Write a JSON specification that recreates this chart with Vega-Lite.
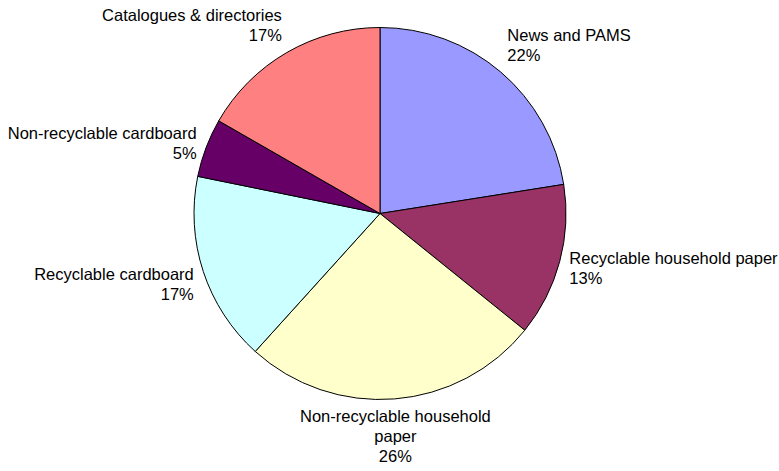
{
  "$schema": "https://vega.github.io/schema/vega-lite/v6.json",
  "width": 760,
  "height": 427,
  "autosize": {"type": "none"},
  "padding": {"left": 0, "top": 0, "right": 19, "bottom": 44},
  "background": "white",
  "config": {"view": {"stroke": null}},
  "data": {
    "values": [
      {"idx": 1, "category": "News and PAMS", "share": 22.5, "label": "News and PAMS\n22%"},
      {"idx": 2, "category": "Recyclable household paper", "share": 13.3, "label": "Recyclable household paper\n13%"},
      {"idx": 3, "category": "Non-recyclable household paper", "share": 25.9, "label": "Non-recyclable household\npaper\n26%"},
      {"idx": 4, "category": "Recyclable cardboard", "share": 16.5, "label": "Recyclable cardboard\n17%"},
      {"idx": 5, "category": "Non-recyclable cardboard", "share": 5.1, "label": "Non-recyclable cardboard\n5%"},
      {"idx": 6, "category": "Catalogues & directories", "share": 16.7, "label": "Catalogues & directories\n17%"}
    ]
  },
  "encoding": {
    "theta": {"field": "share", "type": "quantitative", "stack": true},
    "order": {"field": "idx", "type": "quantitative"}
  },
  "layer": [
    {
      "mark": {"type": "arc", "outerRadius": 186, "stroke": "black", "strokeWidth": 1},
      "encoding": {
        "color": {
          "field": "category",
          "type": "nominal",
          "scale": {
            "domain": ["News and PAMS", "Recyclable household paper", "Non-recyclable household paper", "Recyclable cardboard", "Non-recyclable cardboard", "Catalogues & directories"],
            "range": ["#9999FF", "#993366", "#FFFFCC", "#CCFFFF", "#660066", "#FF8080"]
          },
          "legend": null
        }
      }
    },
    {
      "mark": {
        "type": "text",
        "radius": 196,
        "font": "Liberation Sans",
        "fontSize": 16.5,
        "lineHeight": 20,
        "lineBreak": "\n",
        "color": "black",
        "align": {"expr": "datum.category == 'Non-recyclable household paper' ? 'center' : ((datum.category == 'News and PAMS' || datum.category == 'Recyclable household paper') ? 'left' : 'right')"},
        "baseline": {"expr": "datum.category == 'Non-recyclable household paper' ? 'top' : (datum.category == 'Recyclable household paper' ? 'alphabetic' : ((datum.category == 'Recyclable cardboard' || datum.category == 'Non-recyclable cardboard') ? 'middle' : 'bottom'))"},
        "dy": {"expr": "(datum.category == 'News and PAMS' || datum.category == 'Catalogues & directories') ? -20 : (datum.category == 'Non-recyclable cardboard' ? -10 : 0)"}
      },
      "encoding": {
        "text": {"field": "label", "type": "nominal"}
      }
    }
  ]
}
